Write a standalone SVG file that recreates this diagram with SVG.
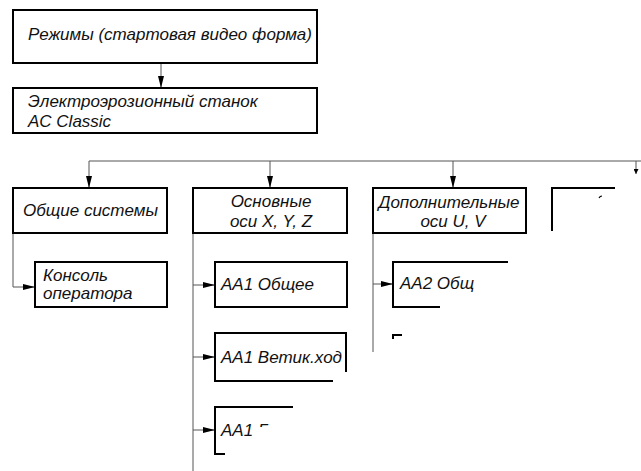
<svg xmlns="http://www.w3.org/2000/svg" width="641" height="471" viewBox="0 0 641 471">
<style>
.box{fill:#fff;stroke:#000;stroke-width:2}
.pbox{fill:none;stroke:#000;stroke-width:2}
.con{fill:none;stroke:#555;stroke-width:1}
text{font-family:"Liberation Sans",Arial,sans-serif;font-style:italic;font-size:17px;fill:#111}
.c{text-anchor:middle}
</style>
<defs>
<marker id="ah" viewBox="0 0 12 6" refX="12" refY="3" markerWidth="12" markerHeight="6" markerUnits="userSpaceOnUse" orient="auto">
<path d="M0,0 L12,3 L0,6 Z" fill="#000"/>
</marker>
<marker id="ahs" viewBox="0 0 6 6" refX="6" refY="3" markerWidth="6" markerHeight="5" markerUnits="userSpaceOnUse" orient="auto">
<path d="M0,0 L6,3 L0,6 Z" fill="#000"/>
</marker>
<clipPath id="clipG"><rect x="200" y="400" width="100" height="27"/></clipPath>
<clipPath id="clipSh"><rect x="390" y="260" width="87" height="40"/></clipPath>
</defs>
<rect width="641" height="471" fill="#fff"/>
<g id="connectors">
<path class="con" d="M161,63 V88" marker-end="url(#ah)"/>
<path class="con" d="M89,161 H641"/>
<path class="con" d="M89,161 V188" marker-end="url(#ah)"/>
<path class="con" d="M270,161 V188" marker-end="url(#ah)"/>
<path class="con" d="M453,161 V188" marker-end="url(#ah)"/>
<path class="con" d="M636,161 V174" marker-end="url(#ahs)"/>
<path class="con" d="M13,233 V287 H35" marker-end="url(#ah)"/>
<path class="con" d="M193,233 V471"/>
<path class="con" d="M193,285 H215" marker-end="url(#ah)"/>
<path class="con" d="M193,357 H215" marker-end="url(#ah)"/>
<path class="con" d="M193,430 H215" marker-end="url(#ah)"/>
<path class="con" d="M373,233 V352"/>
<path class="con" d="M373,284 H393" marker-end="url(#ah)"/>
</g>
<g id="n-modes">
<rect class="box" x="13" y="10" width="304" height="53"/>
<text x="28" y="40">Режимы (стартовая видео форма)</text>
</g>
<g id="n-machine">
<rect class="box" x="13" y="88" width="304" height="45"/>
<text x="28" y="107">Электроэрозионный станок</text>
<text x="28" y="127">AC Classic</text>
</g>
<g id="n-general">
<rect class="box" x="13" y="188" width="154" height="45"/>
<text x="23" y="216">Общие системы</text>
</g>
<g id="n-main-axes">
<rect class="box" x="193" y="188" width="154" height="45"/>
<text class="c" x="271" y="207">Основные</text>
<text class="c" x="271" y="227">оси X, Y, Z</text>
</g>
<g id="n-extra-axes">
<rect class="box" x="373" y="188" width="153" height="45"/>
<text class="c" x="449" y="208">Дополнительные</text>
<text class="c" x="453" y="227">оси U, V</text>
</g>
<g id="n-fourth">
<path class="pbox" d="M552,231 V188 H615"/>
<path d="M599,198 q1,-2 3,-2" fill="none" stroke="#000" stroke-width="1.2"/>
</g>
<g id="n-console">
<rect class="box" x="35" y="262" width="132" height="45"/>
<text x="43" y="281">Консоль</text>
<text x="43" y="299">оператора</text>
</g>
<g id="n-aa1-general">
<rect class="box" x="215" y="262" width="132" height="45"/>
<text x="221" y="290">AA1 Общее</text>
</g>
<g id="n-aa1-vert">
<path class="pbox" d="M333,381 H215 V333 H346 V372"/>
<text x="221" y="363">AA1 Ветик.ход</text>
</g>
<g id="n-aa1-h">
<path class="pbox" d="M293,407 H215 V454 H225"/>
<text x="221" y="436">AA1</text>
<text x="258" y="436" clip-path="url(#clipG)">Г</text>
</g>
<g id="n-aa2-general">
<path class="pbox" d="M508,262 H393 V307 H440"/>
<text x="400" y="289" clip-path="url(#clipSh)">AA2 Общ</text>
</g>
<g id="n-aa2-next">
<path class="pbox" d="M402,335 H393 V339"/>
</g>
</svg>
